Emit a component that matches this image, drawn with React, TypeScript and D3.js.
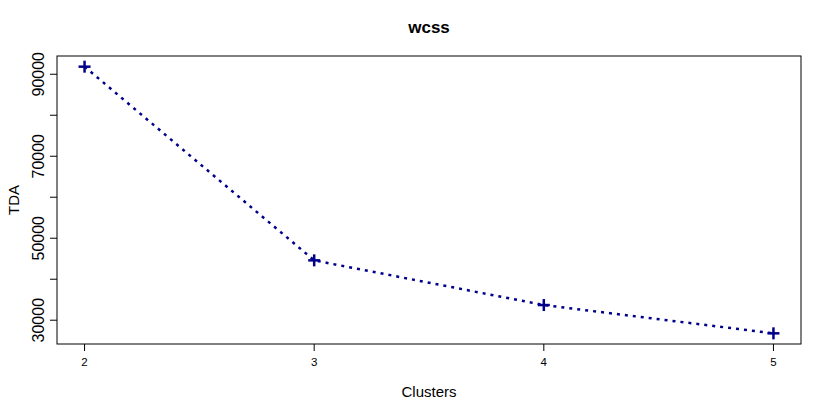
import React from "react";
import * as d3 from "d3";

const clusters = [2, 3, 4, 5];
const tda = [91850, 44600, 33700, 26800];
const yTicks = [30000, 50000, 70000, 90000];
const yMinorTicks = [30000, 40000, 50000, 60000, 70000, 80000, 90000];
const xTicks = [2, 3, 4, 5];

const W = 830, H = 415;
const L = 57, R = 801, T = 56, B = 344;

export default function App() {
  const xPad = (5 - 2) * 0.04;
  const x = d3.scaleLinear().domain([2 - xPad, 5 + xPad]).range([L, R]);
  const yMin = d3.min(tda)!, yMax = d3.max(tda)!;
  const yp = (yMax - yMin) * 0.04;
  const y = d3.scaleLinear().domain([yMin - yp, yMax + yp]).range([B, T]);
  const line = d3.line<number>().x((_, i) => x(clusters[i])).y((d) => y(d));
  const font = "'Liberation Sans', Arial, Helvetica, sans-serif";
  const col = "#00008B";
  return (
    <svg width={W} height={H} style={{ position: "absolute", left: 0, top: 0, background: "#fff" }} fontFamily={font}>
      <rect x={0} y={0} width={W} height={H} fill="#fff" />
      <text x={(L + R) / 2} y={33} textAnchor="middle" fontWeight="bold" fontSize={17}>wcss</text>
      <rect x={L} y={T} width={R - L} height={B - T} fill="none" stroke="#000" strokeWidth={1} />
      {xTicks.map((t) => (
        <g key={t}>
          <line x1={x(t)} x2={x(t)} y1={B} y2={B + 7} stroke="#000" />
          <text x={x(t)} y={366} textAnchor="middle" fontSize={11.5}>{t}</text>
        </g>
      ))}
      {yMinorTicks.map((t) => (
        <line key={t} x1={L - 7} x2={L} y1={y(t)} y2={y(t)} stroke="#000" />
      ))}
      {yTicks.map((t) => (
        <text key={t} transform={`translate(44,${y(t)}) rotate(-90)`} textAnchor="middle" fontSize={16}>{t}</text>
      ))}
      <text x={(L + R) / 2} y={397} textAnchor="middle" fontSize={15}>Clusters</text>
      <text transform={`translate(19,${(T + B) / 2}) rotate(-90)`} textAnchor="middle" fontSize={15}>TDA</text>
      <path d={line(tda) || ""} fill="none" stroke={col} strokeWidth={2.5} strokeDasharray="3 5" />
      {tda.map((v, i) => (
        <g key={i} stroke={col} strokeWidth={2.5}>
          <line x1={x(clusters[i]) - 6} x2={x(clusters[i]) + 6} y1={y(v)} y2={y(v)} />
          <line x1={x(clusters[i])} x2={x(clusters[i])} y1={y(v) - 6} y2={y(v) + 6} />
        </g>
      ))}
    </svg>
  );
}
